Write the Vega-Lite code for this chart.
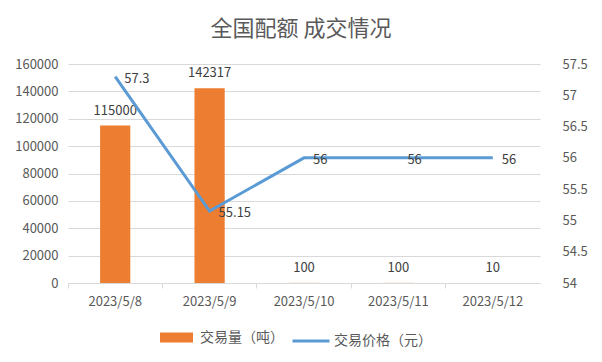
{
  "$schema": "https://vega.github.io/schema/vega-lite/v6.json",
  "width": 472,
  "height": 219,
  "autosize": {"type": "none"},
  "padding": {"left": 68, "top": 64, "right": 62, "bottom": 79},
  "background": "white",
  "title": {"text": "全国配额 成交情况", "fontSize": 22, "font": "Noto Sans CJK SC", "fontWeight": "normal", "color": "#595959", "offset": 17, "anchor": "middle", "dx": -3},
  "data": {"values": [
    {"date": "2023/5/8", "volume": 115000, "price": 57.3},
    {"date": "2023/5/9", "volume": 142317, "price": 55.15},
    {"date": "2023/5/10", "volume": 100, "price": 56},
    {"date": "2023/5/11", "volume": 100, "price": 56},
    {"date": "2023/5/12", "volume": 10, "price": 56}
  ]},
  "encoding": {
    "x": {"field": "date", "type": "ordinal", "sort": null, "title": null,
      "scale": {"paddingInner": 0, "paddingOuter": 0},
      "axis": {"labelAngle": 0, "bandPosition": 0, "domainColor": "#D9D9D9", "tickColor": "#D9D9D9", "tickSize": 5, "labelPadding": 7, "labelFontSize": 13, "labelColor": "#595959", "labelFont": "Noto Sans CJK SC", "grid": false}}
  },
  "layer": [
    {
      "mark": {"type": "bar", "width": {"band": 0.32}},
      "encoding": {
        "y": {"field": "volume", "type": "quantitative", "title": null,
          "scale": {"domain": [0, 160000], "nice": false},
          "axis": {"tickCount": 8, "format": "d", "labelOverlap": false, "domain": false, "ticks": false, "labelPadding": 10, "gridColor": "#D9D9D9", "labelFontSize": 13, "labelColor": "#595959", "labelFont": "Noto Sans CJK SC"}},
        "fill": {"datum": "交易量（吨）", "type": "nominal", "scale": {"range": ["#ED7D31"]},
          "legend": {"title": null, "orient": "none", "legendX": 92, "legendY": 257, "symbolType": "M-1,-0.303H1V0.303H-1Z", "symbolSize": 1089, "symbolStrokeWidth": 0, "labelFontSize": 14, "labelColor": "#595959", "labelFont": "Noto Sans CJK SC", "labelOffset": 7}}
      }
    },
    {
      "mark": {"type": "text", "baseline": "bottom", "dy": -8, "fontSize": 13, "color": "#404040", "font": "Noto Sans CJK SC"},
      "encoding": {
        "y": {"field": "volume", "type": "quantitative", "scale": {"domain": [0, 160000], "nice": false}, "axis": null},
        "text": {"field": "volume", "type": "quantitative", "format": "d"}
      }
    },
    {
      "mark": {"type": "line", "strokeWidth": 3},
      "encoding": {
        "y": {"field": "price", "type": "quantitative", "title": null,
          "scale": {"domain": [54, 57.5], "zero": false, "nice": false},
          "axis": {"orient": "right", "values": [54,54.5,55,55.5,56,56.5,57,57.5], "format": "~g", "labelOverlap": false, "grid": false, "domain": false, "ticks": false, "labelPadding": 22, "labelFontSize": 13, "labelColor": "#595959", "labelFont": "Noto Sans CJK SC"}},
        "stroke": {"datum": "交易价格（元）", "type": "nominal", "scale": {"range": ["#5B9BD5"]},
          "legend": {"title": null, "orient": "none", "legendX": 223, "legendY": 257, "symbolType": "stroke", "symbolSize": 1369, "symbolStrokeWidth": 3, "labelFontSize": 14, "labelColor": "#595959", "labelFont": "Noto Sans CJK SC", "labelOffset": 3}}
      }
    },
    {
      "mark": {"type": "text", "align": "left", "dx": 9, "dy": 2, "fontSize": 13, "color": "#404040", "font": "Noto Sans CJK SC"},
      "encoding": {
        "y": {"field": "price", "type": "quantitative", "scale": {"domain": [54, 57.5], "zero": false, "nice": false}, "axis": null},
        "text": {"field": "price", "type": "quantitative"}
      }
    }
  ],
  "resolve": {"scale": {"y": "independent", "fill": "independent", "stroke": "independent"}},
  "config": {"view": {"stroke": null}}
}
